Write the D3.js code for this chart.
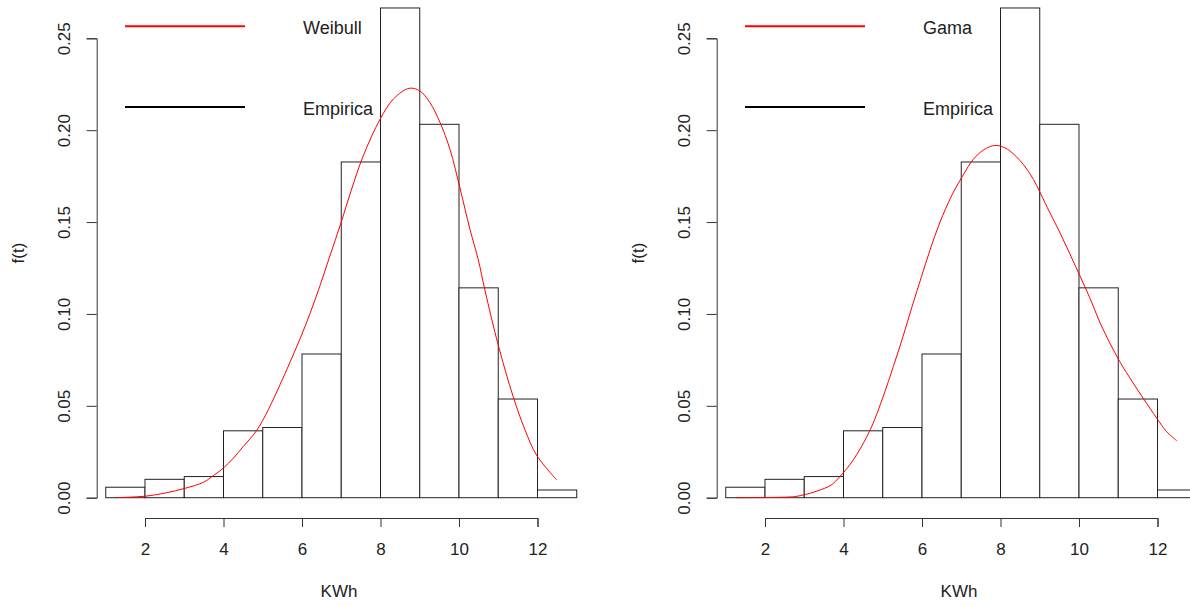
<!DOCTYPE html>
<html>
<head>
<meta charset="utf-8">
<script src="https://cdnjs.cloudflare.com/ajax/libs/d3/7.8.5/d3.min.js"></script>
<style>
body { margin: 0; background: #fff; }
text { font-family: 'Liberation Sans', Arial, sans-serif; fill: #222; }
</style>
</head>
<body>
<svg></svg>
<script>
// histogram (density), bins of width 1 from 1 to 13
let binEdges = [1, 2, 3, 4, 5, 6, 7, 8, 9, 10, 11, 12, 13]
let density = [0.0057, 0.0100, 0.0115, 0.0364, 0.0382, 0.0782, 0.1827, 0.2665, 0.2032, 0.1142, 0.0537, 0.0042]

let xTicks = [2, 4, 6, 8, 10, 12]
let yTicks = [0, 0.05, 0.10, 0.15, 0.20, 0.25]

// fitted curves
let weibullX = [1.24, 1.6, 2.0, 2.55, 3.0, 3.49, 3.74, 3.99, 4.25, 4.5, 4.84, 5.14, 5.44, 5.69, 5.95, 6.2, 6.46, 6.71, 7.0, 7.25, 7.56, 7.99, 8.33, 8.73, 9.0, 9.26, 9.52, 9.77, 10.03, 10.28, 10.49, 10.66, 11.0, 11.38, 11.68, 11.98, 12.49]
let weibullY = [0.0, 0.0003, 0.0008, 0.0027, 0.005, 0.0084, 0.012, 0.016, 0.0215, 0.0278, 0.0364, 0.0478, 0.0615, 0.0735, 0.0865, 0.1000, 0.1155, 0.1315, 0.150, 0.167, 0.186, 0.206, 0.217, 0.2228, 0.2214, 0.215, 0.204, 0.1896, 0.168, 0.146, 0.1296, 0.113, 0.083, 0.055, 0.037, 0.023, 0.0097]

let gammaX = [1.26, 2.0, 2.5, 2.76, 3.04, 3.35, 3.68, 3.91, 4.25, 4.68, 5.01, 5.27, 5.52, 5.74, 5.99, 6.2, 6.45, 6.77, 7.06, 7.3, 7.55, 7.8, 7.99, 8.24, 8.58, 8.84, 9.01, 9.26, 9.52, 9.77, 10.03, 10.28, 10.54, 10.79, 11.04, 11.38, 11.64, 11.98, 12.23, 12.49]
let gammaY = [0.0, 0.0001, 0.0003, 0.0006, 0.0018, 0.0038, 0.0068, 0.0115, 0.0206, 0.0369, 0.055, 0.0714, 0.088, 0.1035, 0.1205, 0.1345, 0.1495, 0.165, 0.176, 0.184, 0.189, 0.1915, 0.1914, 0.1887, 0.1814, 0.1732, 0.166, 0.155, 0.144, 0.1325, 0.1205, 0.1085, 0.095, 0.084, 0.074, 0.0624, 0.054, 0.0433, 0.036, 0.031]

let legendLabels = [['Weibull', 'Empirica'], ['Gama', 'Empirica']]

let width = 1190
let height = 606
let panelOffset = 620

let svg = d3.select('svg')
    .attr('width', width)
    .attr('height', height)

let drawPanel = (idx, curveX, curveY) => {

    let g = svg.append('g')
        .attr('transform', 'translate(' + (idx * panelOffset) + ',0)')

    let xScale = d3.scaleLinear()
        .domain([2, 12])
        .range([145, 537.5])

    let yScale = d3.scaleLinear()
        .domain([0, 0.25])
        .range([497.7, 38.3])

    // bars
    g.selectAll('rect')
        .data(density)
        .enter()
        .append('rect')
        .attr('x', (d, i) => xScale(binEdges[i]))
        .attr('y', (d) => yScale(d))
        .attr('width', (d, i) => xScale(binEdges[i + 1]) - xScale(binEdges[i]))
        .attr('height', (d) => yScale(0) - yScale(d))
        .attr('fill', 'white')
        .attr('stroke', '#222')
        .attr('stroke-width', 1)

    // fitted curve
    let pts = curveX.map((x, i) => [x, curveY[i]])
    let line = d3.line()
        .x((d) => xScale(d[0]))
        .y((d) => yScale(d[1]))
        .curve(d3.curveCatmullRom.alpha(0.5))

    g.append('path')
        .datum(pts)
        .attr('d', line)
        .attr('fill', 'none')
        .attr('stroke', '#ff0000')
        .attr('stroke-width', 1)

    // axes
    let xAxis = g.append('g')
        .attr('transform', 'translate(0,518)')
        .call(d3.axisBottom(xScale).tickValues(xTicks).tickSize(9).tickPadding(16).tickFormat(d3.format('d')))
    xAxis.attr('font-family', null).attr('font-size', 17).attr('color', '#333')

    let yAxis = g.append('g')
        .attr('transform', 'translate(96.7,0)')
        .call(d3.axisLeft(yScale).tickValues(yTicks).tickSize(10).tickFormat(d3.format('.2f')))
    yAxis.attr('font-family', null).attr('font-size', 17).attr('color', '#333')
    yAxis.selectAll('text')
        .attr('transform', 'rotate(-90)')
        .attr('x', 0)
        .attr('y', -26.7)
        .attr('dy', null)
        .attr('text-anchor', 'middle')

    // axis titles
    g.append('text')
        .attr('x', 339)
        .attr('y', 597)
        .attr('text-anchor', 'middle')
        .style('font-size', '17px')
        .text('KWh')

    g.append('text')
        .attr('transform', 'translate(24,253) rotate(-90)')
        .attr('text-anchor', 'middle')
        .style('font-size', '17px')
        .text('f(t)')

    // legend
    let legY = [26.3, 107]
    let legColors = ['#ff0000', '#000000']
    legY.forEach((y, i) => {
        g.append('line')
            .attr('x1', 125).attr('x2', 245)
            .attr('y1', y).attr('y2', y)
            .attr('stroke', legColors[i])
            .attr('stroke-width', 2)
        g.append('text')
            .attr('x', 303)
            .attr('y', y + 8)
            .style('font-size', '18px')
            .text(legendLabels[idx][i])
    })
}

drawPanel(0, weibullX, weibullY)
drawPanel(1, gammaX, gammaY)
</script>
</body>
</html>
